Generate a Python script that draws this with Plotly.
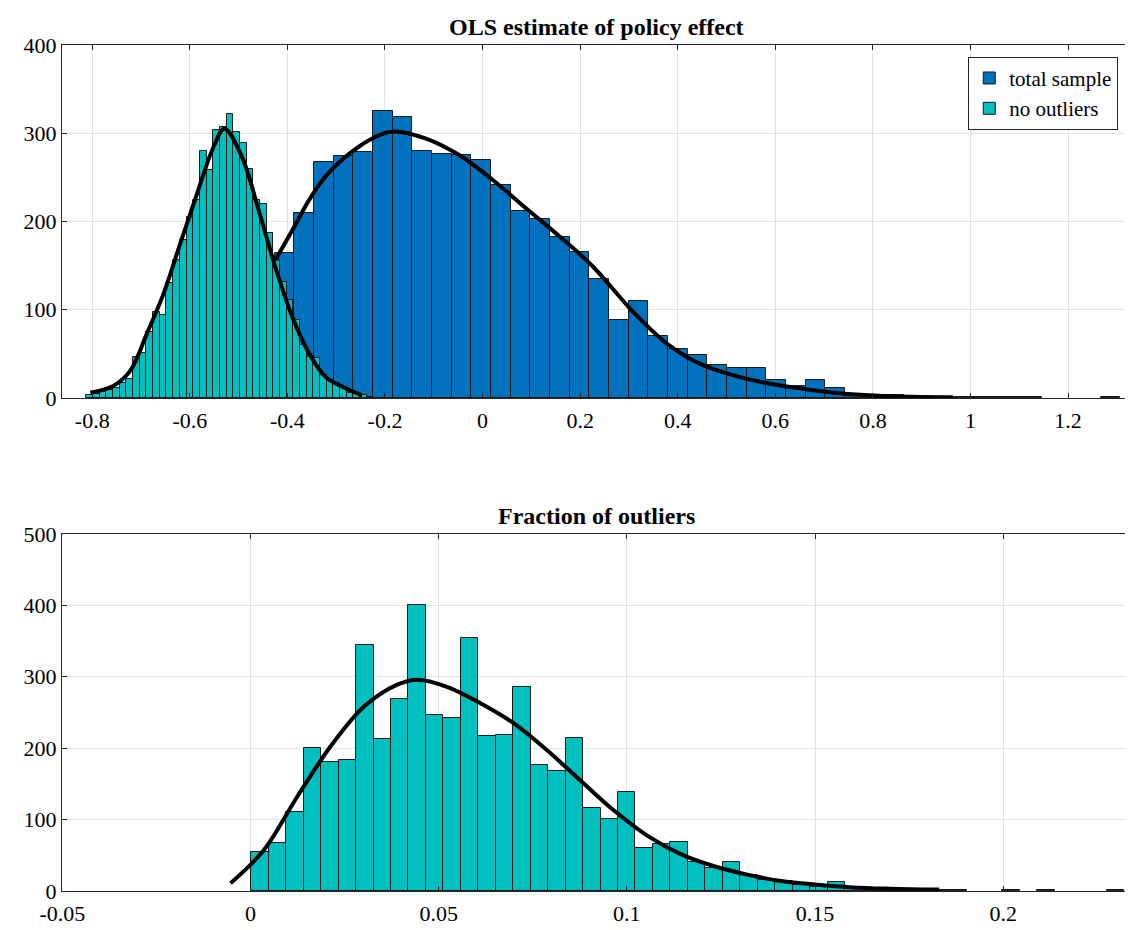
import plotly.graph_objects as go

# ---------- Top panel data ----------
cyan_start = -0.812
cyan_width = 0.01368
cyan_counts = [3, 5, 7, 9, 11, 17, 22, 46, 51, 75, 97, 94, 130, 156, 179, 205, 224, 280, 258, 304, 307, 322,
               301, 289, 260, 224, 220, 187, 156, 132, 111, 88, 60, 47, 45, 26, 20, 17, 11, 6, 5, 3, 1]

blue_start = -0.426
blue_width = 0.0403
blue_counts = [164, 210, 268, 274, 279, 325, 318, 280, 277, 275, 270, 241, 212, 203, 182, 166, 135, 88, 110, 70,
               55, 49, 38, 34, 34, 21, 14, 20, 11, 5, 4, 3, 2, 1, 1, 1, 1, 1, 1, 0, 0, 0, 1]

cyan_kde_x = [-0.804, -0.756, -0.722, -0.688, -0.654, -0.619, -0.585, -0.551, -0.529, -0.493, -0.459,
              -0.425, -0.390, -0.356, -0.322, -0.288, -0.247]
cyan_kde_y = [6, 14, 31, 73, 118, 176, 232, 285, 305, 273, 213, 149, 92, 51, 24, 13, 3]

blue_kde_x = [-0.425, -0.390, -0.356, -0.322, -0.288, -0.253, -0.219, -0.184, -0.116, -0.047, 0.021, 0.089,
              0.158, 0.226, 0.308, 0.377, 0.445, 0.513, 0.582, 0.650, 0.719, 0.821, 0.964]
blue_kde_y = [156, 190, 224, 251, 270, 285, 296, 302, 294, 275, 247, 215, 183, 149, 98, 62, 39, 26, 17, 11, 6, 2.4, 1]

# ---------- Bottom panel data ----------
frac_start = 0.0002
frac_width = 0.00464
frac_counts = [54, 67, 110, 200, 181, 184, 344, 213, 269, 400, 246, 243, 355, 217, 218, 286, 176, 168, 215, 116,
               101, 139, 60, 66, 69, 41, 32, 40, 22, 15, 14, 8, 5, 12, 4, 3, 2, 2, 2, 1, 1, 0, 0, 1, 0, 1, 0, 0, 0, 1]

frac_kde_x = [-0.0053, 0.0035, 0.0124, 0.0212, 0.0301, 0.0390, 0.0443, 0.0522, 0.0611, 0.0699, 0.0788, 0.0876,
              0.0965, 0.1053, 0.1142, 0.1230, 0.1320, 0.1410, 0.1500, 0.1600, 0.1700, 0.1830]
frac_kde_y = [11, 57, 132, 202, 258, 289, 296, 286, 263, 235, 197, 155, 113, 78, 52, 35, 23, 14, 9, 5, 3.2, 2]

BLUE = "#0072BD"
CYAN = "#00BFBF"
FONT = "Liberation Serif, Times New Roman, serif"


def centers(start, width, counts):
    return [start + width * (i + 0.5) for i in range(len(counts))]


def clean(counts):
    return [c if c > 0 else None for c in counts]


fig = go.Figure()
fig.add_trace(go.Bar(x=centers(blue_start, blue_width, blue_counts), y=clean(blue_counts), width=blue_width,
                     marker=dict(color=BLUE, line=dict(color="#1a1a1a", width=1)), name="total sample",
                     xaxis="x", yaxis="y"))
fig.add_trace(go.Bar(x=centers(cyan_start, cyan_width, cyan_counts), y=clean(cyan_counts), width=cyan_width,
                     marker=dict(color=CYAN, line=dict(color="#1a1a1a", width=1)), name="no outliers",
                     xaxis="x", yaxis="y"))
fig.add_trace(go.Scatter(x=blue_kde_x, y=blue_kde_y, mode="lines", line=dict(color="black", width=4, shape="spline"),
                         showlegend=False, xaxis="x", yaxis="y"))
fig.add_trace(go.Scatter(x=cyan_kde_x, y=cyan_kde_y, mode="lines", line=dict(color="black", width=4, shape="spline"),
                         showlegend=False, xaxis="x", yaxis="y"))

fig.add_trace(go.Bar(x=centers(frac_start, frac_width, frac_counts), y=clean(frac_counts), width=frac_width,
                     marker=dict(color=CYAN, line=dict(color="#1a1a1a", width=1)), showlegend=False,
                     xaxis="x2", yaxis="y2"))
fig.add_trace(go.Scatter(x=frac_kde_x, y=frac_kde_y, mode="lines", line=dict(color="black", width=4, shape="spline"),
                         showlegend=False, xaxis="x2", yaxis="y2"))

axis_common = dict(showline=True, linecolor="#262626", linewidth=1, mirror="ticks", ticks="inside",
                   ticklen=5, tickcolor="#262626", showgrid=True, gridcolor="#e3e3e3", zeroline=False,
                   tickfont=dict(family=FONT, size=22, color="black"))

fig.update_layout(
    width=1125, height=922,
    margin=dict(l=54, r=3, t=37, b=39, autoexpand=False),
    paper_bgcolor="white", plot_bgcolor="white",
    barmode="overlay", bargap=0,
    font=dict(family=FONT, color="black"),
    xaxis=dict(domain=[0, 1], range=[-0.862, 1.327], anchor="y", ticklabelstandoff=3,
               tickvals=[-0.8, -0.6, -0.4, -0.2, 0, 0.2, 0.4, 0.6, 0.8, 1, 1.2],
               ticktext=["-0.8", "-0.6", "-0.4", "-0.2", "0", "0.2", "0.4", "0.6", "0.8", "1", "1.2"],
               **axis_common),
    yaxis=dict(domain=[0.5827, 1], range=[0, 400], anchor="x", tickvals=[0, 100, 200, 300, 400], **axis_common),
    xaxis2=dict(domain=[0, 1], range=[-0.0501, 0.2337], anchor="y2", ticklabelstandoff=3,
                tickvals=[-0.05, 0, 0.05, 0.1, 0.15, 0.2],
                ticktext=["-0.05", "0", "0.05", "0.1", "0.15", "0.2"], **axis_common),
    yaxis2=dict(domain=[0, 0.422], range=[0, 500], anchor="x2", tickvals=[0, 100, 200, 300, 400, 500],
                **axis_common),
    legend=dict(x=0.989, y=0.986, xanchor="right", yanchor="top", bgcolor="white",
                bordercolor="#262626", borderwidth=1, font=dict(family=FONT, size=21, color="black"),
                traceorder="normal"),
    annotations=[
        dict(text="<b>OLS estimate of policy effect</b>", x=0.5, y=1.0, xref="paper", yref="paper",
             xanchor="center", yanchor="bottom", yshift=3, showarrow=False,
             font=dict(family=FONT, size=24, color="black")),
        dict(text="<b>Fraction of outliers</b>", x=0.5, y=0.422, xref="paper", yref="paper",
             xanchor="center", yanchor="bottom", yshift=3, showarrow=False,
             font=dict(family=FONT, size=24, color="black")),
    ],
)

fig.write_html("out.html")
